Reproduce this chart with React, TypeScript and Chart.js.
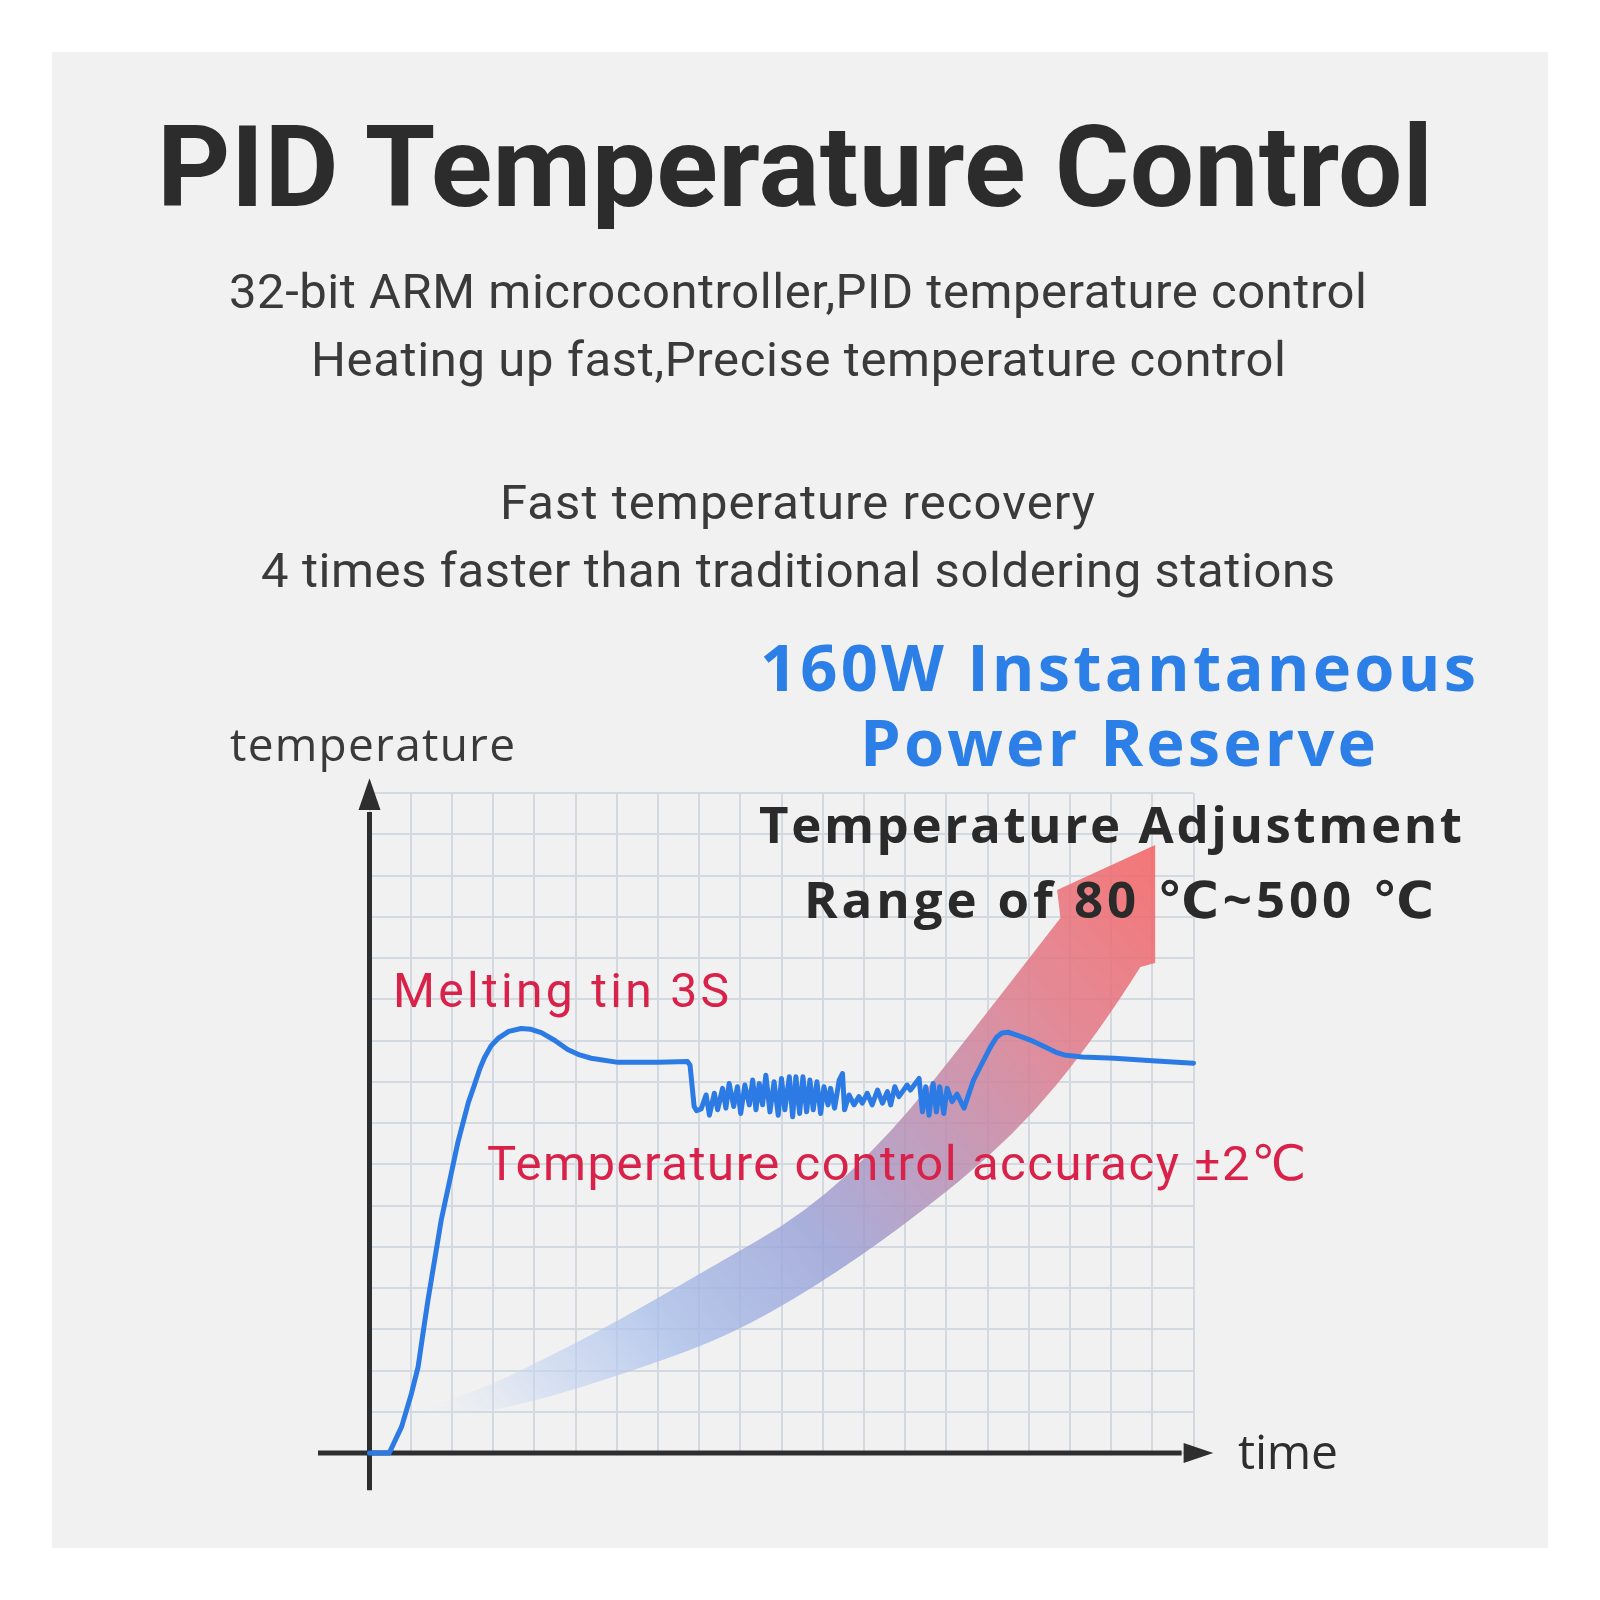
import React, { useEffect, useRef } from "react";
import { Chart, registerables } from "chart.js";

Chart.register(...registerables);

// ---------- data (grid units: x = time cells, y = temperature cells) ----------
const X_TICKS = [0, 1, 2, 3, 4, 5, 6, 7, 8, 9, 10, 11, 12, 13, 14, 15, 16, 17, 18, 19, 20];
const Y_TICKS = [0, 1, 2, 3, 4, 5, 6, 7, 8, 9, 10, 11, 12, 13, 14, 15, 16];

const TIME = [
  0, 0.48, 0.62, 0.78, 1.02, 1.18, 1.3, 1.42, 1.74, 2.15, 2.4, 2.55, 2.68, 2.79, 2.95, 3.12, 3.38, 3.68, 3.92,
  4.17, 4.5, 4.81, 5.1, 5.38, 6.03, 7.0, 7.72, 7.78,
  7.88, 7.94, 8.05, 8.17, 8.25, 8.37, 8.45, 8.57, 8.65, 8.73, 8.84, 8.93, 9.01, 9.11, 9.22, 9.3, 9.38, 9.46,
  9.54, 9.62, 9.72, 9.82, 9.92, 10.0, 10.08, 10.19, 10.27, 10.35, 10.44, 10.52, 10.61, 10.69, 10.77, 10.86,
  10.95, 11.03, 11.13, 11.19, 11.29, 11.4, 11.48, 11.53, 11.64, 11.76, 11.88, 11.96, 12.08, 12.2, 12.33,
  12.45, 12.57, 12.65, 12.75, 12.85, 13.05, 13.13, 13.34, 13.42, 13.5, 13.58, 13.68, 13.76, 13.84, 13.94,
  14.02, 14.14, 14.26, 14.43, 14.66, 15.07, 15.22, 15.35, 15.5, 15.75, 16.04, 16.4, 16.65, 16.86, 17.3, 18.08,
  19.0, 20.0,
];
const TEMP = [
  0, 0, 0.3, 0.64, 1.45, 2.09, 2.91, 3.71, 5.64, 7.55, 8.5, 8.93, 9.32, 9.58, 9.87, 10.05, 10.22, 10.29, 10.27,
  10.19, 10.0, 9.78, 9.65, 9.57, 9.47, 9.47, 9.49, 9.4,
  8.4, 8.3, 8.34, 8.68, 8.19, 8.72, 8.32, 8.84, 8.36, 8.96, 8.4, 8.88, 8.23, 8.92, 8.44, 9.04, 8.32, 8.96,
  8.44, 9.16, 8.27, 9.0, 8.19, 9.08, 8.32, 9.12, 8.15, 9.12, 8.23, 9.12, 8.27, 9.04, 8.32, 9.0,
  8.23, 8.88, 8.44, 8.84, 8.36, 9.04, 9.2, 8.32, 8.68, 8.44, 8.64, 8.48, 8.72, 8.44, 8.8,
  8.48, 8.76, 8.44, 8.88, 8.64, 8.92, 8.8, 9.08, 8.27, 8.88, 8.19, 8.96, 8.27, 8.88, 8.23,
  8.84, 8.52, 8.7, 8.36, 9.04, 9.84, 10.08, 10.18, 10.2, 10.12, 10.01, 9.84, 9.72, 9.65, 9.6, 9.57,
  9.51, 9.45,
];

// big "power reserve" arrow outline (grid units)
const ARROW_UPPER_X = [1.35, 2.68, 3.9, 5.91, 8.34, 10.58, 12.64, 14.66, 16.77];
const ARROW_UPPER_Y = [1.09, 1.53, 2.11, 3.13, 4.53, 5.82, 7.71, 10.25, 12.97];
const ARROW_HEAD_X = [16.69, 19.07, 19.07];
const ARROW_HEAD_Y = [13.65, 14.74, 11.88];
const ARROW_LOWER_X = [18.71, 17.67, 15.63, 13.0, 10.77, 8.75, 6.74, 4.31, 2.68, 1.35];
const ARROW_LOWER_Y = [11.78, 10.13, 7.66, 5.53, 4.0, 2.86, 2.11, 1.33, 0.97, 0.9];

// axis line extents (grid units)
const X_AXIS_SPAN = [-1.25, 19.76, 20.48]; // start, arrow base, arrow tip
const Y_AXIS_SPAN = [-0.9, 15.59, 16.36];

// ---------- text ----------
const TITLE = "PID Temperature Control";
const INTRO_LINES = [
  "32-bit ARM microcontroller,PID temperature control",
  "Heating up fast,Precise temperature control",
];
const RECOVERY_LINES = ["Fast temperature recovery", "4 times faster than traditional soldering stations"];
const POWER_LINES = ["160W Instantaneous", "Power Reserve"];
const RANGE_LINES = ["Temperature Adjustment", "Range of 80 ℃~500 ℃"];
const MELT_LABEL = "Melting tin 3S";
const ACCURACY_LABEL = "Temperature control accuracy ±2℃";
const Y_TITLE = "temperature";
const X_TITLE = "time";

const ROBOTO = 'Roboto, "DejaVu Sans", sans-serif';
const OPEN = '"Open Sans", "DejaVu Sans", sans-serif';
const BASE_FACTOR: Record<string, number> = { [ROBOTO]: 0.842, [OPEN]: 0.888 };

type TextSpec = {
  text: string;
  x0: number;
  x1: number;
  base: number;
  size: number;
  weight: number;
  color: string;
  font: string;
};

const TEXTS: TextSpec[] = [
  { text: TITLE, x0: 157, x1: 1436, base: 206, size: 114, weight: 700, color: "#2c2c2c", font: ROBOTO },
  { text: INTRO_LINES[0], x0: 229, x1: 1367, base: 308, size: 49, weight: 400, color: "#3a3a3a", font: ROBOTO },
  { text: INTRO_LINES[1], x0: 311, x1: 1286, base: 376, size: 49, weight: 400, color: "#3a3a3a", font: ROBOTO },
  { text: RECOVERY_LINES[0], x0: 500, x1: 1095, base: 519, size: 49, weight: 400, color: "#3a3a3a", font: ROBOTO },
  { text: RECOVERY_LINES[1], x0: 261, x1: 1335, base: 587, size: 49, weight: 400, color: "#3a3a3a", font: ROBOTO },
  { text: POWER_LINES[0], x0: 760, x1: 1476, base: 692, size: 65, weight: 700, color: "#2b7fe6", font: OPEN },
  { text: POWER_LINES[1], x0: 860, x1: 1376, base: 767, size: 65, weight: 700, color: "#2b7fe6", font: OPEN },
  { text: RANGE_LINES[0], x0: 759, x1: 1462, base: 843, size: 51, weight: 700, color: "#2a2a2a", font: OPEN },
  { text: RANGE_LINES[1], x0: 804, x1: 1434, base: 918, size: 51, weight: 700, color: "#2a2a2a", font: OPEN },
  { text: MELT_LABEL, x0: 393, x1: 729, base: 1007, size: 48, weight: 400, color: "#d8224a", font: ROBOTO },
  { text: ACCURACY_LABEL, x0: 487, x1: 1306, base: 1180, size: 49, weight: 400, color: "#d8224a", font: ROBOTO },
  { text: Y_TITLE, x0: 230, x1: 515, base: 761, size: 46, weight: 400, color: "#3a3a3a", font: OPEN },
  { text: X_TITLE, x0: 1238, x1: 1338, base: 1470, size: 48, weight: 400, color: "#2e2e2e", font: OPEN },
];

let measureCtx: CanvasRenderingContext2D | null = null;
function measure(text: string, font: string): number {
  if (!measureCtx) measureCtx = document.createElement("canvas").getContext("2d");
  if (!measureCtx) return 0;
  measureCtx.font = font;
  return measureCtx.measureText(text).width;
}

function Label({ spec }: { spec: TextSpec }) {
  const { text, x0, x1, base, size, weight, color, font } = spec;
  const w = measure(text, `${weight} ${size}px ${font}`);
  const n = Array.from(text).length;
  const ls = n > 1 ? (x1 - x0 - w) / (n - 1) : 0;
  return (
    <div
      style={{
        position: "absolute",
        left: x0,
        top: base - (BASE_FACTOR[font] ?? 0.85) * size,
        fontFamily: font,
        fontSize: size,
        fontWeight: weight,
        color,
        lineHeight: `${size}px`,
        letterSpacing: `${ls}px`,
        whiteSpace: "nowrap",
      }}
    >
      {text}
    </div>
  );
}

const decorPlugin = {
  id: "decor",
  beforeDatasetsDraw(chart: any) {
    const { ctx, scales } = chart;
    const xs = scales.x;
    const ys = scales.y;
    const px = (v: number) => xs.getPixelForValue(v);
    const py = (v: number) => ys.getPixelForValue(v);

    // ---- big gradient arrow ----
    const upper = ARROW_UPPER_X.map((v, i) => [px(v), py(ARROW_UPPER_Y[i])]);
    const lower = ARROW_LOWER_X.map((v, i) => [px(v), py(ARROW_LOWER_Y[i])]);
    const head = ARROW_HEAD_X.map((v, i) => [px(v), py(ARROW_HEAD_Y[i])]);
    const smooth = (pts: number[][], start: boolean) => {
      if (start) ctx.moveTo(pts[0][0], pts[0][1]);
      else ctx.lineTo(pts[0][0], pts[0][1]);
      for (let i = 1; i < pts.length - 1; i++) {
        const mx = (pts[i][0] + pts[i + 1][0]) / 2;
        const my = (pts[i][1] + pts[i + 1][1]) / 2;
        ctx.quadraticCurveTo(pts[i][0], pts[i][1], mx, my);
      }
      const last = pts[pts.length - 1];
      ctx.lineTo(last[0], last[1]);
    };
    ctx.save();
    ctx.beginPath();
    smooth(upper, true);
    head.forEach((p) => ctx.lineTo(p[0], p[1]));
    smooth(lower, false);
    ctx.closePath();
    const tail = [(upper[0][0] + lower[lower.length - 1][0]) / 2, (upper[0][1] + lower[lower.length - 1][1]) / 2];
    const tip = head[1];
    const g = ctx.createLinearGradient(tail[0], tail[1], tip[0], tip[1]);
    g.addColorStop(0, "rgba(215,228,246,0)");
    g.addColorStop(0.12, "rgba(196,212,242,0.55)");
    g.addColorStop(0.26, "rgba(168,190,234,0.78)");
    g.addColorStop(0.45, "rgba(152,160,214,0.82)");
    g.addColorStop(0.62, "rgba(186,140,176,0.84)");
    g.addColorStop(0.78, "rgba(222,124,140,0.86)");
    g.addColorStop(1, "rgba(244,104,104,0.9)");
    ctx.fillStyle = g;
    ctx.fill();
    ctx.restore();

    // ---- axes with arrow heads ----
    ctx.save();
    ctx.strokeStyle = "#2e2e2e";
    ctx.fillStyle = "#2e2e2e";
    ctx.lineWidth = 5;
    const ax = px(0);
    const ay = py(0);
    ctx.beginPath();
    ctx.moveTo(ax, py(Y_AXIS_SPAN[0]));
    ctx.lineTo(ax, py(Y_AXIS_SPAN[1]) + 2);
    ctx.moveTo(px(X_AXIS_SPAN[0]), ay);
    ctx.lineTo(px(X_AXIS_SPAN[1]) - 2, ay);
    ctx.stroke();
    ctx.beginPath();
    ctx.moveTo(ax, py(Y_AXIS_SPAN[2]));
    ctx.lineTo(ax - 11, py(Y_AXIS_SPAN[1]));
    ctx.lineTo(ax + 11, py(Y_AXIS_SPAN[1]));
    ctx.closePath();
    ctx.fill();
    ctx.beginPath();
    ctx.moveTo(px(X_AXIS_SPAN[2]), ay);
    ctx.lineTo(px(X_AXIS_SPAN[1]), ay - 10);
    ctx.lineTo(px(X_AXIS_SPAN[1]), ay + 10);
    ctx.closePath();
    ctx.fill();
    ctx.restore();
  },
};

function PidChart() {
  const ref = useRef<HTMLCanvasElement | null>(null);
  useEffect(() => {
    if (!ref.current) return;
    const chart = new Chart(ref.current, {
      type: "line",
      data: {
        datasets: [
          {
            data: TIME.map((t, i) => ({ x: t, y: TEMP[i] })),
            borderColor: "#2c7be5",
            borderWidth: 5,
            pointRadius: 0,
            tension: 0,
            borderJoinStyle: "round",
            borderCapStyle: "round",
            fill: false,
            clip: false as any,
          },
        ],
      },
      options: {
        animation: false,
        responsive: true,
        maintainAspectRatio: false,
        layout: { padding: { left: 369.5, right: 406.5, top: 793, bottom: 147 } },
        plugins: { legend: { display: false }, tooltip: { enabled: false }, title: { display: false } },
        events: [],
        scales: {
          x: {
            type: "linear",
            min: 0,
            max: 20,
            afterBuildTicks: (s: any) => {
              s.ticks = X_TICKS.map((v) => ({ value: v }));
            },
            ticks: { display: false },
            grid: { color: "#d2d9e0", lineWidth: 2, drawTicks: false },
            border: { display: false },
          },
          y: {
            type: "linear",
            min: 0,
            max: 16,
            afterBuildTicks: (s: any) => {
              s.ticks = Y_TICKS.map((v) => ({ value: v }));
            },
            ticks: { display: false },
            grid: { color: "#d2d9e0", lineWidth: 2, drawTicks: false },
            border: { display: false },
          },
        },
      } as any,
      plugins: [decorPlugin],
    });
    return () => chart.destroy();
  }, []);
  return (
    <div style={{ position: "absolute", left: 0, top: 0, width: 1600, height: 1600 }}>
      <canvas ref={ref} />
    </div>
  );
}

export default function App() {
  return (
    <div style={{ position: "absolute", left: 0, top: 0, width: 1600, height: 1600, background: "#ffffff", overflow: "hidden" }}>
      <div style={{ position: "absolute", left: 52, top: 52, width: 1496, height: 1496, background: "#f1f1f1" }} />
      <PidChart />
      {TEXTS.map((t, i) => (
        <Label key={i} spec={t} />
      ))}
    </div>
  );
}
